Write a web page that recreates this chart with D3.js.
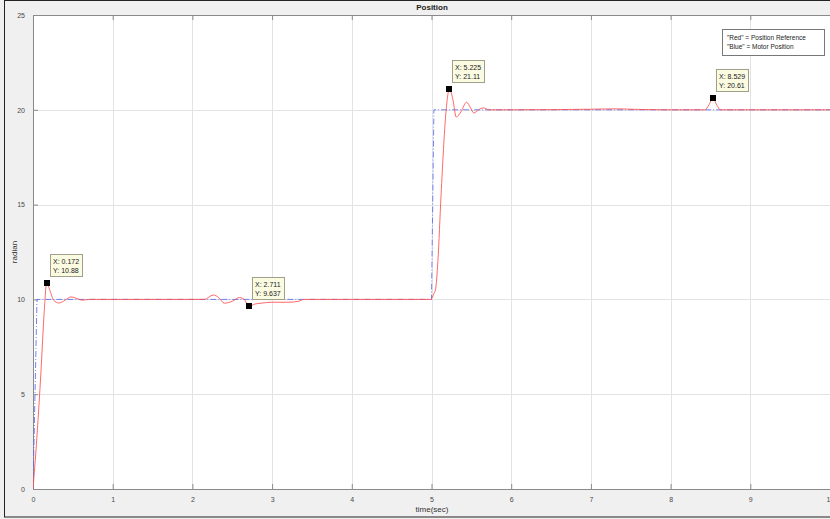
<!DOCTYPE html>
<html>
<head>
<meta charset="utf-8">
<script src="https://cdn.jsdelivr.net/npm/d3@7"></script>
<style>
	body { margin: 0; background: #fff; }
	svg { display: block; font-family: "Liberation Sans", Arial, sans-serif; }
</style>
</head>
<body>
<div id="chart"></div>
<script>

// red = measured (position reference curve), blue = step command
var redT = [0, 0.05, 0.1, 0.14, 0.172, 0.21, 0.26, 0.325, 0.4, 0.475, 0.55, 0.62, 0.7, 0.8, 1.0,
	2.0, 2.15, 2.26, 2.33, 2.4, 2.5, 2.59, 2.65, 2.711, 2.78, 2.86, 3.0, 3.2, 3.33, 3.4, 4.0,
	4.99, 5.03, 5.05, 5.08, 5.12, 5.18, 5.225, 5.27, 5.31, 5.37, 5.44, 5.49, 5.53, 5.59, 5.65, 5.72, 5.8,
	6.0, 7.0, 7.3, 7.6, 8.0, 8.43, 8.48, 8.529, 8.58, 8.625, 9.0, 10]
var redY = [0, 2.8, 6.2, 9.3, 10.88, 10.5, 9.95, 9.81, 9.95, 10.13, 10.05, 9.96, 10.0, 10.0, 10,
	10, 10.0, 10.23, 10.1, 9.8, 9.9, 10.1, 10.0, 9.637, 9.75, 9.8, 9.85, 9.85, 9.9, 10, 10,
	10, 10.3, 10.5, 12, 15.5, 19.8, 21.11, 20.5, 19.62, 19.9, 20.4, 20.1, 19.83, 20.0, 20.1, 20.0, 20.0,
	20, 20.03, 20.05, 20.02, 20, 20, 20.25, 20.61, 20.25, 20, 20, 20]

var blueT = [0, 0.05, 5.0, 5.03, 10]
var blueY = [0, 10, 10, 20, 20]

var tipX = [0.172, 2.711, 5.225, 8.529]
var tipY = [10.88, 9.637, 21.11, 20.61]
var tipXText = ["0.172", "2.711", "5.225", "8.529"]
var tipYText = ["10.88", "9.637", "21.11", "20.61"]

var xTicks = [0, 1, 2, 3, 4, 5, 6, 7, 8, 9, 10]
var yTicks = [0, 5, 10, 15, 20, 25]

var legendLines = ['"Red"  = Position Reference', '"Blue"  = Motor Position']

var width = 830,
	height = 519

// plot box edges (window.top is reserved, so prefixed names)
var pLeft = 33, pTop = 15, pBottom = 489, pRight = 830

var svg = d3.select("#chart")
	.append("svg")
	.attr("width", width)
	.attr("height", height)

// figure background + frame
svg.append("rect")
	.attr("x", 0).attr("y", 0)
	.attr("width", width).attr("height", height)
	.attr("fill", "#f0f0f0")
svg.append("rect")
	.attr("x", 4.5).attr("y", 0.5)
	.attr("width", width + 10).attr("height", 516.5)
	.attr("fill", "none")
	.attr("stroke", "#222")
	.attr("stroke-width", 1)

var x = d3.scaleLinear().domain([0, 10]).range([pLeft, pRight])
var y = d3.scaleLinear().domain([0, 25]).range([pBottom, pTop])

// plot area
svg.append("rect")
	.attr("x", pLeft).attr("y", pTop)
	.attr("width", pRight - pLeft + 5).attr("height", pBottom - pTop)
	.attr("fill", "#fff")

// grid
svg.append("g")
	.selectAll("line")
	.data(xTicks.slice(1))
	.enter()
	.append("line")
	.attr("x1", d => Math.round(x(d)) + 0.5).attr("x2", d => Math.round(x(d)) + 0.5)
	.attr("y1", pTop).attr("y2", pBottom)
	.attr("stroke", "#e3e3e3")
svg.append("g")
	.selectAll("line")
	.data(yTicks.slice(1, -1))
	.enter()
	.append("line")
	.attr("x1", pLeft).attr("x2", pRight + 5)
	.attr("y1", d => Math.round(y(d)) + 0.5).attr("y2", d => Math.round(y(d)) + 0.5)
	.attr("stroke", "#e3e3e3")

// axes (ticks pointing inside)
var axisStyle = function(g) {
	g.selectAll(".domain").attr("stroke", "#8a8a8a")
	g.selectAll(".tick line").attr("stroke", "#8a8a8a")
	g.selectAll(".tick text").attr("fill", "#4a4a4a").attr("font-size", 7).attr("font-family", "Liberation Sans, Arial, sans-serif")
}

svg.append("g")
	.attr("transform", "translate(0," + pBottom + ")")
	.call(d3.axisBottom(x).tickValues(xTicks).tickSizeInner(-5).tickSizeOuter(0).tickPadding(8).tickFormat(d3.format("d")))
	.call(axisStyle)

svg.append("g")
	.attr("transform", "translate(0," + pTop + ")")
	.call(d3.axisTop(x).tickValues(xTicks).tickSizeInner(-5).tickSizeOuter(0).tickFormat(""))
	.call(axisStyle)

svg.append("g")
	.attr("transform", "translate(" + pLeft + ",0)")
	.call(d3.axisLeft(y).tickValues(yTicks).tickSizeInner(-5).tickSizeOuter(0).tickPadding(8))
	.call(axisStyle)

// title and labels
svg.append("text")
	.text("Position")
	.attr("x", 432).attr("y", 10)
	.attr("text-anchor", "middle")
	.attr("font-size", 8)
	.attr("font-weight", "bold")
	.attr("fill", "#222")

svg.append("text")
	.text("time(sec)")
	.attr("x", 432).attr("y", 512)
	.attr("text-anchor", "middle")
	.attr("font-size", 8)
	.attr("fill", "#333")

svg.append("text")
	.text("radian")
	.attr("transform", "translate(17,252) rotate(-90)")
	.attr("text-anchor", "middle")
	.attr("font-size", 8)
	.attr("fill", "#333")

// lines
svg.append("clipPath").attr("id", "plotclip")
	.append("rect")
	.attr("x", pLeft).attr("y", pTop)
	.attr("width", pRight - pLeft + 5).attr("height", pBottom - pTop)

var plot = svg.append("g").attr("clip-path", "url(#plotclip)")

var redLine = d3.line()
	.x(function(d, i) { return x(redT[i]) })
	.y(function(d) { return y(d) })
	.curve(d3.curveMonotoneX)

var blueLine = d3.line()
	.x(function(d, i) { return x(blueT[i]) })
	.y(function(d) { return y(d) })

plot.append("path")
	.attr("d", blueLine(blueY))
	.attr("fill", "none")
	.attr("stroke", "#5b6cf0")
	.attr("stroke-width", 1)
	.attr("stroke-dasharray", "6,2,1,2")
	.style("opacity", 0.85)

plot.append("path")
	.attr("d", redLine(redY))
	.attr("fill", "none")
	.attr("stroke", "#ff4d4d")
	.attr("stroke-width", 1)
	.style("opacity", 0.85)

// data tips
var tips = svg.append("g")
	.selectAll("g")
	.data(tipX)
	.enter()
	.append("g")
	.attr("transform", function(d, i) { return "translate(" + Math.round(x(d)) + "," + Math.round(y(tipY[i])) + ")" })

tips.append("rect")
	.attr("x", -3).attr("y", -3)
	.attr("width", 6).attr("height", 6)
	.attr("fill", "#000")

tips.append("rect")
	.attr("x", 3.5).attr("y", -28.5)
	.attr("width", 32).attr("height", 22)
	.attr("fill", "#fbfbe2")
	.attr("stroke", "#a0a08a")

tips.append("text")
	.text(function(d, i) { return "X: " + tipXText[i] })
	.attr("x", 6).attr("y", -19)
	.attr("font-size", 7)
	.attr("fill", "#222")

tips.append("text")
	.text(function(d, i) { return "Y: " + tipYText[i] })
	.attr("x", 6).attr("y", -10)
	.attr("font-size", 7)
	.attr("fill", "#222")

// legend
svg.append("rect")
	.attr("x", 722.5).attr("y", 29.5)
	.attr("width", 102).attr("height", 26)
	.attr("fill", "#fff")
	.attr("stroke", "#777")

svg.append("g")
	.selectAll("text")
	.data(legendLines)
	.enter()
	.append("text")
	.text(d => d)
	.attr("x", 727)
	.attr("y", (d, i) => 40 + i * 9)
	.attr("font-size", 6.5)
	.attr("fill", "#222")

</script>
</body>
</html>
